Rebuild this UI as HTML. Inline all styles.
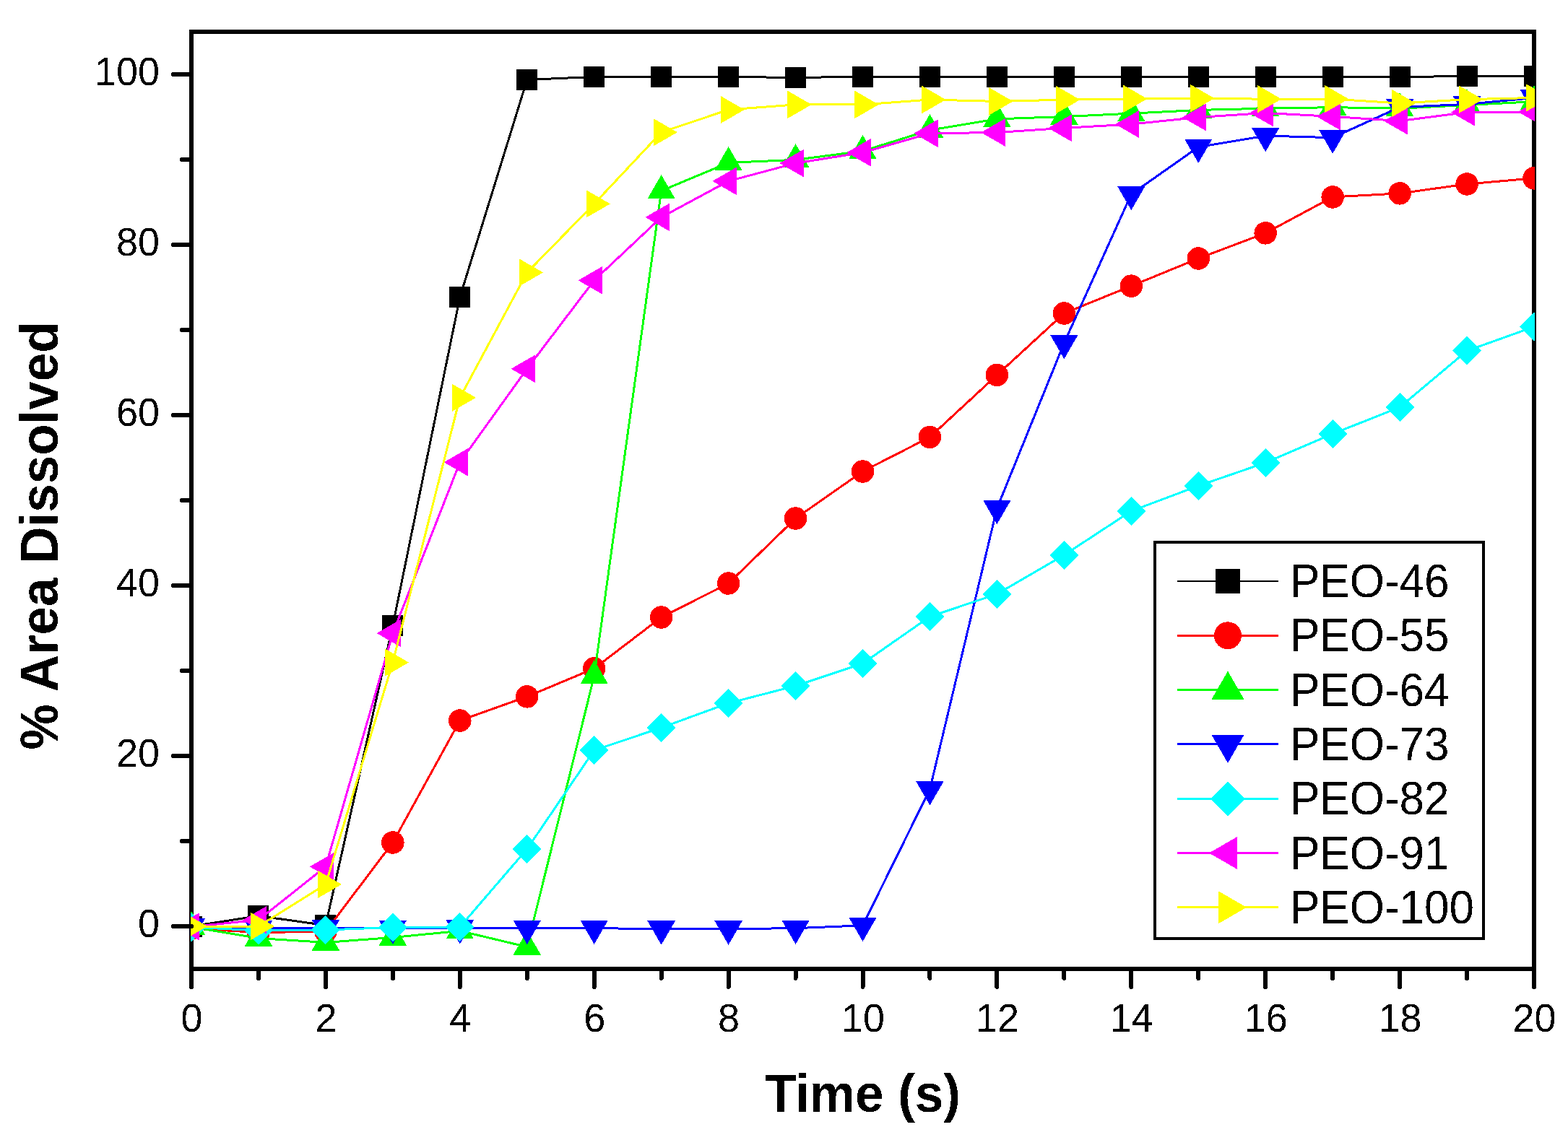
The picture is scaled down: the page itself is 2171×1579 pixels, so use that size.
<!DOCTYPE html>
<html><head><meta charset="utf-8"><title>% Area Dissolved vs Time</title>
<style>html,body{margin:0;padding:0;background:#fff;}svg{display:block;}</style></head><body>
<svg width="2171" height="1579" viewBox="0 0 2171 1579" shape-rendering="crispEdges">
<rect x="0" y="0" width="2171" height="1579" fill="#ffffff"/>
<defs><clipPath id="pc"><rect x="264" y="44" width="1861" height="1298"/></clipPath><filter id="crisp" x="-5%" y="-20%" width="110%" height="140%"><feComponentTransfer><feFuncA type="discrete" tableValues="0 1"/></feComponentTransfer></filter></defs>
<rect x="265" y="44" width="1859" height="1298" fill="none" stroke="#000" stroke-width="6"/>
<g clip-path="url(#pc)">
<polyline points="265,1283 357.95,1268.6 450.9,1281.58 543.85,866.46 636.8,411.45 729.75,110.43 822.7,106.42 915.65,106.42 1008.6,106.54 1101.55,107.37 1194.5,106.42 1287.45,106.42 1380.4,106.42 1473.35,106.42 1566.3,106.42 1659.25,106.42 1752.2,106.42 1845.15,106.42 1938.1,106.42 2031.05,105.6 2124,105.6" fill="none" stroke="#000000" stroke-width="3" stroke-linejoin="round"/>
<rect x="250.5" y="1268.5" width="29" height="29" fill="#000000"/>
<rect x="343.45" y="1254.1" width="29" height="29" fill="#000000"/>
<rect x="436.4" y="1267.08" width="29" height="29" fill="#000000"/>
<rect x="529.35" y="851.96" width="29" height="29" fill="#000000"/>
<rect x="622.3" y="396.95" width="29" height="29" fill="#000000"/>
<rect x="715.25" y="95.93" width="29" height="29" fill="#000000"/>
<rect x="808.2" y="91.92" width="29" height="29" fill="#000000"/>
<rect x="901.15" y="91.92" width="29" height="29" fill="#000000"/>
<rect x="994.1" y="92.04" width="29" height="29" fill="#000000"/>
<rect x="1087.05" y="92.87" width="29" height="29" fill="#000000"/>
<rect x="1180" y="91.92" width="29" height="29" fill="#000000"/>
<rect x="1272.95" y="91.92" width="29" height="29" fill="#000000"/>
<rect x="1365.9" y="91.92" width="29" height="29" fill="#000000"/>
<rect x="1458.85" y="91.92" width="29" height="29" fill="#000000"/>
<rect x="1551.8" y="91.92" width="29" height="29" fill="#000000"/>
<rect x="1644.75" y="91.92" width="29" height="29" fill="#000000"/>
<rect x="1737.7" y="91.92" width="29" height="29" fill="#000000"/>
<rect x="1830.65" y="91.92" width="29" height="29" fill="#000000"/>
<rect x="1923.6" y="91.92" width="29" height="29" fill="#000000"/>
<rect x="2016.55" y="91.1" width="29" height="29" fill="#000000"/>
<rect x="2109.5" y="91.1" width="29" height="29" fill="#000000"/>
<polyline points="265,1285.95 357.95,1291.61 450.9,1290.08 543.85,1167.01 636.8,998.03 729.75,964.87 822.7,925.93 915.65,855.01 1008.6,808.05 1101.55,718.02 1194.5,653 1287.45,605.44 1380.4,519.42 1473.35,433.99 1566.3,396.11 1659.25,358 1752.2,322.83 1845.15,272.92 1938.1,267.85 2031.05,254.98 2124,246.84" fill="none" stroke="#ff0000" stroke-width="3" stroke-linejoin="round"/>
<circle cx="265" cy="1285.95" r="15.75" fill="#ff0000"/>
<circle cx="357.95" cy="1291.61" r="15.75" fill="#ff0000"/>
<circle cx="450.9" cy="1290.08" r="15.75" fill="#ff0000"/>
<circle cx="543.85" cy="1167.01" r="15.75" fill="#ff0000"/>
<circle cx="636.8" cy="998.03" r="15.75" fill="#ff0000"/>
<circle cx="729.75" cy="964.87" r="15.75" fill="#ff0000"/>
<circle cx="822.7" cy="925.93" r="15.75" fill="#ff0000"/>
<circle cx="915.65" cy="855.01" r="15.75" fill="#ff0000"/>
<circle cx="1008.6" cy="808.05" r="15.75" fill="#ff0000"/>
<circle cx="1101.55" cy="718.02" r="15.75" fill="#ff0000"/>
<circle cx="1194.5" cy="653" r="15.75" fill="#ff0000"/>
<circle cx="1287.45" cy="605.44" r="15.75" fill="#ff0000"/>
<circle cx="1380.4" cy="519.42" r="15.75" fill="#ff0000"/>
<circle cx="1473.35" cy="433.99" r="15.75" fill="#ff0000"/>
<circle cx="1566.3" cy="396.11" r="15.75" fill="#ff0000"/>
<circle cx="1659.25" cy="358" r="15.75" fill="#ff0000"/>
<circle cx="1752.2" cy="322.83" r="15.75" fill="#ff0000"/>
<circle cx="1845.15" cy="272.92" r="15.75" fill="#ff0000"/>
<circle cx="1938.1" cy="267.85" r="15.75" fill="#ff0000"/>
<circle cx="2031.05" cy="254.98" r="15.75" fill="#ff0000"/>
<circle cx="2124" cy="246.84" r="15.75" fill="#ff0000"/>
<polyline points="265,1283.94 357.95,1299.52 450.9,1305.42 543.85,1298.46 636.8,1289.37 729.75,1311.56 822.7,936.32 915.65,264.31 1008.6,225.37 1101.55,221.35 1194.5,209.2 1287.45,180.17 1380.4,164.83 1473.35,161.53 1566.3,157.16 1659.25,152.44 1752.2,150.2 1845.15,148.67 1938.1,150.2 2031.05,145.48 2124,140.76" fill="none" stroke="#00ff00" stroke-width="3" stroke-linejoin="round"/>
<polygon points="265,1261.74 284.23,1295.04 245.77,1295.04" fill="#00ff00"/>
<polygon points="357.95,1277.32 377.18,1310.62 338.72,1310.62" fill="#00ff00"/>
<polygon points="450.9,1283.22 470.13,1316.52 431.67,1316.52" fill="#00ff00"/>
<polygon points="543.85,1276.26 563.08,1309.56 524.62,1309.56" fill="#00ff00"/>
<polygon points="636.8,1267.17 656.03,1300.47 617.57,1300.47" fill="#00ff00"/>
<polygon points="729.75,1289.36 748.98,1322.66 710.52,1322.66" fill="#00ff00"/>
<polygon points="822.7,914.12 841.93,947.42 803.47,947.42" fill="#00ff00"/>
<polygon points="915.65,242.11 934.88,275.41 896.42,275.41" fill="#00ff00"/>
<polygon points="1008.6,203.17 1027.83,236.47 989.37,236.47" fill="#00ff00"/>
<polygon points="1101.55,199.15 1120.78,232.45 1082.32,232.45" fill="#00ff00"/>
<polygon points="1194.5,187 1213.73,220.3 1175.27,220.3" fill="#00ff00"/>
<polygon points="1287.45,157.97 1306.68,191.27 1268.22,191.27" fill="#00ff00"/>
<polygon points="1380.4,142.63 1399.63,175.93 1361.17,175.93" fill="#00ff00"/>
<polygon points="1473.35,139.33 1492.58,172.63 1454.12,172.63" fill="#00ff00"/>
<polygon points="1566.3,134.96 1585.53,168.26 1547.07,168.26" fill="#00ff00"/>
<polygon points="1659.25,130.24 1678.48,163.54 1640.02,163.54" fill="#00ff00"/>
<polygon points="1752.2,128 1771.43,161.3 1732.97,161.3" fill="#00ff00"/>
<polygon points="1845.15,126.47 1864.38,159.77 1825.92,159.77" fill="#00ff00"/>
<polygon points="1938.1,128 1957.33,161.3 1918.87,161.3" fill="#00ff00"/>
<polygon points="2031.05,123.28 2050.28,156.58 2011.82,156.58" fill="#00ff00"/>
<polygon points="2124,118.56 2143.23,151.86 2104.77,151.86" fill="#00ff00"/>
<polyline points="265,1283 357.95,1286.07 450.9,1285.24 543.85,1285.6 636.8,1285.48 729.75,1285.83 822.7,1285.71 915.65,1286.54 1008.6,1286.54 1101.55,1285.71 1194.5,1281.82 1287.45,1093.26 1380.4,703.97 1473.35,475.05 1566.3,269.03 1659.25,203.65 1752.2,188.08 1845.15,190.67 1938.1,148.43 2031.05,144.42 2124,135.45" fill="none" stroke="#0000ff" stroke-width="3" stroke-linejoin="round"/>
<polygon points="265,1305.2 284.23,1271.9 245.77,1271.9" fill="#0000ff"/>
<polygon points="357.95,1308.27 377.18,1274.97 338.72,1274.97" fill="#0000ff"/>
<polygon points="450.9,1307.44 470.13,1274.14 431.67,1274.14" fill="#0000ff"/>
<polygon points="543.85,1307.8 563.08,1274.5 524.62,1274.5" fill="#0000ff"/>
<polygon points="636.8,1307.68 656.03,1274.38 617.57,1274.38" fill="#0000ff"/>
<polygon points="729.75,1308.03 748.98,1274.73 710.52,1274.73" fill="#0000ff"/>
<polygon points="822.7,1307.91 841.93,1274.61 803.47,1274.61" fill="#0000ff"/>
<polygon points="915.65,1308.74 934.88,1275.44 896.42,1275.44" fill="#0000ff"/>
<polygon points="1008.6,1308.74 1027.83,1275.44 989.37,1275.44" fill="#0000ff"/>
<polygon points="1101.55,1307.91 1120.78,1274.61 1082.32,1274.61" fill="#0000ff"/>
<polygon points="1194.5,1304.02 1213.73,1270.72 1175.27,1270.72" fill="#0000ff"/>
<polygon points="1287.45,1115.46 1306.68,1082.16 1268.22,1082.16" fill="#0000ff"/>
<polygon points="1380.4,726.17 1399.63,692.87 1361.17,692.87" fill="#0000ff"/>
<polygon points="1473.35,497.25 1492.58,463.95 1454.12,463.95" fill="#0000ff"/>
<polygon points="1566.3,291.23 1585.53,257.93 1547.07,257.93" fill="#0000ff"/>
<polygon points="1659.25,225.85 1678.48,192.55 1640.02,192.55" fill="#0000ff"/>
<polygon points="1752.2,210.28 1771.43,176.98 1732.97,176.98" fill="#0000ff"/>
<polygon points="1845.15,212.87 1864.38,179.57 1825.92,179.57" fill="#0000ff"/>
<polygon points="1938.1,170.63 1957.33,137.33 1918.87,137.33" fill="#0000ff"/>
<polygon points="2031.05,166.62 2050.28,133.32 2011.82,133.32" fill="#0000ff"/>
<polygon points="2124,157.65 2143.23,124.35 2104.77,124.35" fill="#0000ff"/>
<polyline points="265,1284.18 357.95,1288.9 450.9,1287.96 543.85,1284.53 636.8,1283.94 729.75,1175.97 822.7,1039.21 915.65,1007.94 1008.6,973.96 1101.55,950 1194.5,918.97 1287.45,854.07 1380.4,822.8 1473.35,768.76 1566.3,707.87 1659.25,672.94 1752.2,640.84 1845.15,600.96 1938.1,564.03 2031.05,485.91 2124,452.63" fill="none" stroke="#00ffff" stroke-width="3" stroke-linejoin="round"/>
<polygon points="265,1264.18 285,1284.18 265,1304.18 245,1284.18" fill="#00ffff"/>
<polygon points="357.95,1268.9 377.95,1288.9 357.95,1308.9 337.95,1288.9" fill="#00ffff"/>
<polygon points="450.9,1267.96 470.9,1287.96 450.9,1307.96 430.9,1287.96" fill="#00ffff"/>
<polygon points="543.85,1264.53 563.85,1284.53 543.85,1304.53 523.85,1284.53" fill="#00ffff"/>
<polygon points="636.8,1263.94 656.8,1283.94 636.8,1303.94 616.8,1283.94" fill="#00ffff"/>
<polygon points="729.75,1155.97 749.75,1175.97 729.75,1195.97 709.75,1175.97" fill="#00ffff"/>
<polygon points="822.7,1019.21 842.7,1039.21 822.7,1059.21 802.7,1039.21" fill="#00ffff"/>
<polygon points="915.65,987.94 935.65,1007.94 915.65,1027.94 895.65,1007.94" fill="#00ffff"/>
<polygon points="1008.6,953.96 1028.6,973.96 1008.6,993.96 988.6,973.96" fill="#00ffff"/>
<polygon points="1101.55,930 1121.55,950 1101.55,970 1081.55,950" fill="#00ffff"/>
<polygon points="1194.5,898.97 1214.5,918.97 1194.5,938.97 1174.5,918.97" fill="#00ffff"/>
<polygon points="1287.45,834.07 1307.45,854.07 1287.45,874.07 1267.45,854.07" fill="#00ffff"/>
<polygon points="1380.4,802.8 1400.4,822.8 1380.4,842.8 1360.4,822.8" fill="#00ffff"/>
<polygon points="1473.35,748.76 1493.35,768.76 1473.35,788.76 1453.35,768.76" fill="#00ffff"/>
<polygon points="1566.3,687.87 1586.3,707.87 1566.3,727.87 1546.3,707.87" fill="#00ffff"/>
<polygon points="1659.25,652.94 1679.25,672.94 1659.25,692.94 1639.25,672.94" fill="#00ffff"/>
<polygon points="1752.2,620.84 1772.2,640.84 1752.2,660.84 1732.2,640.84" fill="#00ffff"/>
<polygon points="1845.15,580.96 1865.15,600.96 1845.15,620.96 1825.15,600.96" fill="#00ffff"/>
<polygon points="1938.1,544.03 1958.1,564.03 1938.1,584.03 1918.1,564.03" fill="#00ffff"/>
<polygon points="2031.05,465.91 2051.05,485.91 2031.05,505.91 2011.05,485.91" fill="#00ffff"/>
<polygon points="2124,432.63 2144,452.63 2124,472.63 2104,452.63" fill="#00ffff"/>
<polyline points="265,1283.47 357.95,1274.27 450.9,1200.4 543.85,877.08 636.8,640.25 729.75,510.81 822.7,388.32 915.65,300.89 1008.6,250.85 1101.55,226.07 1194.5,211.32 1287.45,184.77 1380.4,183.48 1473.35,177.34 1566.3,172.03 1659.25,162.47 1752.2,156.45 1845.15,161.41 1938.1,167.55 2031.05,155.51 2124,154.92" fill="none" stroke="#ff00ff" stroke-width="3" stroke-linejoin="round"/>
<polygon points="242.8,1283.47 276.1,1264.25 276.1,1302.7" fill="#ff00ff"/>
<polygon points="335.75,1274.27 369.05,1255.04 369.05,1293.49" fill="#ff00ff"/>
<polygon points="428.7,1200.4 462,1181.17 462,1219.63" fill="#ff00ff"/>
<polygon points="521.65,877.08 554.95,857.85 554.95,896.31" fill="#ff00ff"/>
<polygon points="614.6,640.25 647.9,621.03 647.9,659.48" fill="#ff00ff"/>
<polygon points="707.55,510.81 740.85,491.58 740.85,530.03" fill="#ff00ff"/>
<polygon points="800.5,388.32 833.8,369.1 833.8,407.55" fill="#ff00ff"/>
<polygon points="893.45,300.89 926.75,281.66 926.75,320.11" fill="#ff00ff"/>
<polygon points="986.4,250.85 1019.7,231.63 1019.7,270.08" fill="#ff00ff"/>
<polygon points="1079.35,226.07 1112.65,206.85 1112.65,245.3" fill="#ff00ff"/>
<polygon points="1172.3,211.32 1205.6,192.1 1205.6,230.55" fill="#ff00ff"/>
<polygon points="1265.25,184.77 1298.55,165.55 1298.55,204" fill="#ff00ff"/>
<polygon points="1358.2,183.48 1391.5,164.25 1391.5,202.7" fill="#ff00ff"/>
<polygon points="1451.15,177.34 1484.45,158.11 1484.45,196.57" fill="#ff00ff"/>
<polygon points="1544.1,172.03 1577.4,152.8 1577.4,191.26" fill="#ff00ff"/>
<polygon points="1637.05,162.47 1670.35,143.25 1670.35,181.7" fill="#ff00ff"/>
<polygon points="1730,156.45 1763.3,137.23 1763.3,175.68" fill="#ff00ff"/>
<polygon points="1822.95,161.41 1856.25,142.18 1856.25,180.64" fill="#ff00ff"/>
<polygon points="1915.9,167.55 1949.2,148.32 1949.2,186.77" fill="#ff00ff"/>
<polygon points="2008.85,155.51 2042.15,136.28 2042.15,174.74" fill="#ff00ff"/>
<polygon points="2101.8,154.92 2135.1,135.69 2135.1,174.15" fill="#ff00ff"/>
<polyline points="265,1283 357.95,1283 450.9,1224.94 543.85,917.55 636.8,550.81 729.75,377.47 822.7,282.36 915.65,183.24 1008.6,151.97 1101.55,144.89 1194.5,144.89 1287.45,138.05 1380.4,140.41 1473.35,138.16 1566.3,136.87 1659.25,136.16 1752.2,137.22 1845.15,137.1 1938.1,143 2031.05,137.69 2124,135.45" fill="none" stroke="#ffff00" stroke-width="3" stroke-linejoin="round"/>
<polygon points="287.2,1283 253.9,1263.77 253.9,1302.23" fill="#ffff00"/>
<polygon points="380.15,1283 346.85,1263.77 346.85,1302.23" fill="#ffff00"/>
<polygon points="473.1,1224.94 439.8,1205.72 439.8,1244.17" fill="#ffff00"/>
<polygon points="566.05,917.55 532.75,898.33 532.75,936.78" fill="#ffff00"/>
<polygon points="659,550.81 625.7,531.58 625.7,570.04" fill="#ffff00"/>
<polygon points="751.95,377.47 718.65,358.24 718.65,396.69" fill="#ffff00"/>
<polygon points="844.9,282.36 811.6,263.13 811.6,301.59" fill="#ffff00"/>
<polygon points="937.85,183.24 904.55,164.01 904.55,202.47" fill="#ffff00"/>
<polygon points="1030.8,151.97 997.5,132.74 997.5,171.2" fill="#ffff00"/>
<polygon points="1123.75,144.89 1090.45,125.66 1090.45,164.12" fill="#ffff00"/>
<polygon points="1216.7,144.89 1183.4,125.66 1183.4,164.12" fill="#ffff00"/>
<polygon points="1309.65,138.05 1276.35,118.82 1276.35,157.27" fill="#ffff00"/>
<polygon points="1402.6,140.41 1369.3,121.18 1369.3,159.63" fill="#ffff00"/>
<polygon points="1495.55,138.16 1462.25,118.94 1462.25,157.39" fill="#ffff00"/>
<polygon points="1588.5,136.87 1555.2,117.64 1555.2,156.09" fill="#ffff00"/>
<polygon points="1681.45,136.16 1648.15,116.93 1648.15,155.38" fill="#ffff00"/>
<polygon points="1774.4,137.22 1741.1,117.99 1741.1,156.45" fill="#ffff00"/>
<polygon points="1867.35,137.1 1834.05,117.88 1834.05,156.33" fill="#ffff00"/>
<polygon points="1960.3,143 1927,123.78 1927,162.23" fill="#ffff00"/>
<polygon points="2053.25,137.69 2019.95,118.47 2019.95,156.92" fill="#ffff00"/>
<polygon points="2146.2,135.45 2112.9,116.22 2112.9,154.68" fill="#ffff00"/>
</g>
<line x1="240" y1="1283" x2="265" y2="1283" stroke="#000" stroke-width="6" stroke-linecap="round"/>
<line x1="252" y1="1165" x2="265" y2="1165" stroke="#000" stroke-width="6" stroke-linecap="round"/>
<line x1="240" y1="1047" x2="265" y2="1047" stroke="#000" stroke-width="6" stroke-linecap="round"/>
<line x1="252" y1="929" x2="265" y2="929" stroke="#000" stroke-width="6" stroke-linecap="round"/>
<line x1="240" y1="811" x2="265" y2="811" stroke="#000" stroke-width="6" stroke-linecap="round"/>
<line x1="252" y1="693" x2="265" y2="693" stroke="#000" stroke-width="6" stroke-linecap="round"/>
<line x1="240" y1="575" x2="265" y2="575" stroke="#000" stroke-width="6" stroke-linecap="round"/>
<line x1="252" y1="457" x2="265" y2="457" stroke="#000" stroke-width="6" stroke-linecap="round"/>
<line x1="240" y1="339" x2="265" y2="339" stroke="#000" stroke-width="6" stroke-linecap="round"/>
<line x1="252" y1="221" x2="265" y2="221" stroke="#000" stroke-width="6" stroke-linecap="round"/>
<line x1="240" y1="103" x2="265" y2="103" stroke="#000" stroke-width="6" stroke-linecap="round"/>
<line x1="265" y1="1342" x2="265" y2="1367" stroke="#000" stroke-width="6" stroke-linecap="round"/>
<line x1="357.95" y1="1342" x2="357.95" y2="1355" stroke="#000" stroke-width="6" stroke-linecap="round"/>
<line x1="450.9" y1="1342" x2="450.9" y2="1367" stroke="#000" stroke-width="6" stroke-linecap="round"/>
<line x1="543.85" y1="1342" x2="543.85" y2="1355" stroke="#000" stroke-width="6" stroke-linecap="round"/>
<line x1="636.8" y1="1342" x2="636.8" y2="1367" stroke="#000" stroke-width="6" stroke-linecap="round"/>
<line x1="729.75" y1="1342" x2="729.75" y2="1355" stroke="#000" stroke-width="6" stroke-linecap="round"/>
<line x1="822.7" y1="1342" x2="822.7" y2="1367" stroke="#000" stroke-width="6" stroke-linecap="round"/>
<line x1="915.65" y1="1342" x2="915.65" y2="1355" stroke="#000" stroke-width="6" stroke-linecap="round"/>
<line x1="1008.6" y1="1342" x2="1008.6" y2="1367" stroke="#000" stroke-width="6" stroke-linecap="round"/>
<line x1="1101.55" y1="1342" x2="1101.55" y2="1355" stroke="#000" stroke-width="6" stroke-linecap="round"/>
<line x1="1194.5" y1="1342" x2="1194.5" y2="1367" stroke="#000" stroke-width="6" stroke-linecap="round"/>
<line x1="1287.45" y1="1342" x2="1287.45" y2="1355" stroke="#000" stroke-width="6" stroke-linecap="round"/>
<line x1="1380.4" y1="1342" x2="1380.4" y2="1367" stroke="#000" stroke-width="6" stroke-linecap="round"/>
<line x1="1473.35" y1="1342" x2="1473.35" y2="1355" stroke="#000" stroke-width="6" stroke-linecap="round"/>
<line x1="1566.3" y1="1342" x2="1566.3" y2="1367" stroke="#000" stroke-width="6" stroke-linecap="round"/>
<line x1="1659.25" y1="1342" x2="1659.25" y2="1355" stroke="#000" stroke-width="6" stroke-linecap="round"/>
<line x1="1752.2" y1="1342" x2="1752.2" y2="1367" stroke="#000" stroke-width="6" stroke-linecap="round"/>
<line x1="1845.15" y1="1342" x2="1845.15" y2="1355" stroke="#000" stroke-width="6" stroke-linecap="round"/>
<line x1="1938.1" y1="1342" x2="1938.1" y2="1367" stroke="#000" stroke-width="6" stroke-linecap="round"/>
<line x1="2031.05" y1="1342" x2="2031.05" y2="1355" stroke="#000" stroke-width="6" stroke-linecap="round"/>
<line x1="2124" y1="1342" x2="2124" y2="1367" stroke="#000" stroke-width="6" stroke-linecap="round"/>
<g filter="url(#crisp)">
<g font-family="Liberation Sans, Arial, sans-serif" font-size="54" fill="#000">
<text transform="translate(221,1298) scale(1,1.025)" text-anchor="end">0</text>
<text transform="translate(221,1062) scale(1,1.025)" text-anchor="end">20</text>
<text transform="translate(221,826) scale(1,1.025)" text-anchor="end">40</text>
<text transform="translate(221,590) scale(1,1.025)" text-anchor="end">60</text>
<text transform="translate(221,354) scale(1,1.025)" text-anchor="end">80</text>
<text transform="translate(221,118) scale(1,1.025)" text-anchor="end">100</text>
<text transform="translate(265.5,1428.5) scale(1,1.025)" text-anchor="middle">0</text>
<text transform="translate(451.4,1428.5) scale(1,1.025)" text-anchor="middle">2</text>
<text transform="translate(637.3,1428.5) scale(1,1.025)" text-anchor="middle">4</text>
<text transform="translate(823.2,1428.5) scale(1,1.025)" text-anchor="middle">6</text>
<text transform="translate(1009.1,1428.5) scale(1,1.025)" text-anchor="middle">8</text>
<text transform="translate(1195,1428.5) scale(1,1.025)" text-anchor="middle">10</text>
<text transform="translate(1380.9,1428.5) scale(1,1.025)" text-anchor="middle">12</text>
<text transform="translate(1566.8,1428.5) scale(1,1.025)" text-anchor="middle">14</text>
<text transform="translate(1752.7,1428.5) scale(1,1.025)" text-anchor="middle">16</text>
<text transform="translate(1938.6,1428.5) scale(1,1.025)" text-anchor="middle">18</text>
<text transform="translate(2124.5,1428.5) scale(1,1.025)" text-anchor="middle">20</text>
</g>
<text transform="translate(1194.5,1540) scale(1,1.05)" text-anchor="middle" font-family="Liberation Sans, Arial, sans-serif" font-weight="bold" font-size="71">Time (s)</text>
<text transform="translate(80,742) rotate(-90) scale(1,1.05)" text-anchor="middle" font-family="Liberation Sans, Arial, sans-serif" font-weight="bold" font-size="71">% Area Dissolved</text>
</g>
<rect x="1599" y="751" width="455" height="549" fill="#fff" stroke="#000" stroke-width="4"/>
<line x1="1630" y1="805" x2="1770" y2="805" stroke="#000000" stroke-width="2"/>
<rect x="1683" y="788" width="34" height="34" fill="#000000"/>
<text filter="url(#crisp)" transform="translate(1786,827) scale(1,1.05)" font-family="Liberation Sans, Arial, sans-serif" font-size="62" fill="#000">PEO-46</text>
<line x1="1630" y1="880.3" x2="1770" y2="880.3" stroke="#ff0000" stroke-width="3"/>
<circle cx="1700" cy="880.3" r="19" fill="#ff0000"/>
<text filter="url(#crisp)" transform="translate(1786,902.3) scale(1,1.05)" font-family="Liberation Sans, Arial, sans-serif" font-size="62" fill="#000">PEO-55</text>
<line x1="1630" y1="955.6" x2="1770" y2="955.6" stroke="#00ff00" stroke-width="3"/>
<polygon points="1700,929.6 1722.52,968.6 1677.48,968.6" fill="#00ff00"/>
<text filter="url(#crisp)" transform="translate(1786,977.6) scale(1,1.05)" font-family="Liberation Sans, Arial, sans-serif" font-size="62" fill="#000">PEO-64</text>
<line x1="1630" y1="1030.9" x2="1770" y2="1030.9" stroke="#0000ff" stroke-width="3"/>
<polygon points="1700,1056.9 1722.52,1017.9 1677.48,1017.9" fill="#0000ff"/>
<text filter="url(#crisp)" transform="translate(1786,1052.9) scale(1,1.05)" font-family="Liberation Sans, Arial, sans-serif" font-size="62" fill="#000">PEO-73</text>
<line x1="1630" y1="1106.2" x2="1770" y2="1106.2" stroke="#00ffff" stroke-width="3"/>
<polygon points="1700,1082.2 1724,1106.2 1700,1130.2 1676,1106.2" fill="#00ffff"/>
<text filter="url(#crisp)" transform="translate(1786,1128.2) scale(1,1.05)" font-family="Liberation Sans, Arial, sans-serif" font-size="62" fill="#000">PEO-82</text>
<line x1="1630" y1="1181.5" x2="1770" y2="1181.5" stroke="#ff00ff" stroke-width="3"/>
<polygon points="1674,1181.5 1713,1158.98 1713,1204.02" fill="#ff00ff"/>
<text filter="url(#crisp)" transform="translate(1786,1203.5) scale(1,1.05)" font-family="Liberation Sans, Arial, sans-serif" font-size="62" fill="#000">PEO-91</text>
<line x1="1630" y1="1256.8" x2="1770" y2="1256.8" stroke="#ffff00" stroke-width="3"/>
<polygon points="1726,1256.8 1687,1234.28 1687,1279.32" fill="#ffff00"/>
<text filter="url(#crisp)" transform="translate(1786,1278.8) scale(1,1.05)" font-family="Liberation Sans, Arial, sans-serif" font-size="62" fill="#000">PEO-100</text>
</svg></body></html>
